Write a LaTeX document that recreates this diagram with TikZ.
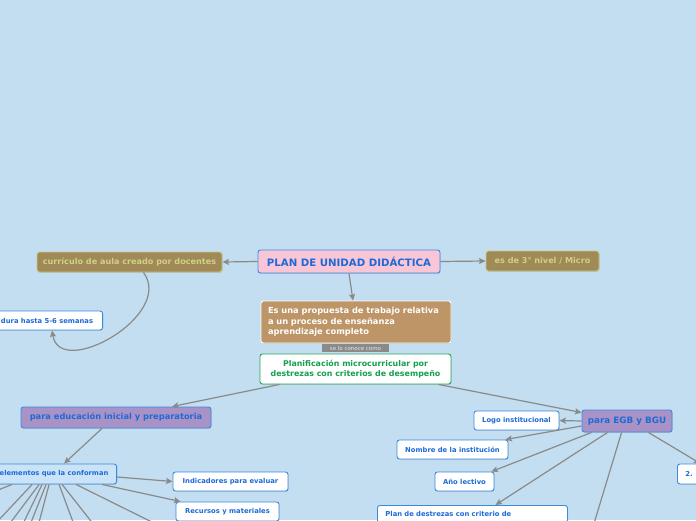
\documentclass[tikz,border=0pt]{standalone}
\usepackage{fontspec}
\newfontfamily\dejavu{DejaVu Sans}
\usetikzlibrary{arrows.meta,shadows}
\definecolor{fondo}{HTML}{C2DEF0}
\definecolor{azul}{HTML}{3A8AE4}
\definecolor{azultxt}{HTML}{1E6AD6}
\definecolor{rosa}{HTML}{F8C6D6}
\definecolor{oliva}{HTML}{A08A58}
\definecolor{olivaborde}{HTML}{C8CA7E}
\definecolor{olivatxt}{HTML}{D0D184}
\definecolor{tostado}{HTML}{BD9567}
\definecolor{verde}{HTML}{22A65C}
\definecolor{verdetxt}{HTML}{12A04E}
\definecolor{lila}{HTML}{A993C6}
\definecolor{celeste}{HTML}{CBE3F6}
\definecolor{gris}{HTML}{8A8A8A}
\definecolor{grisclaro}{HTML}{E6E6E6}

\begin{document}
\begin{tikzpicture}[x=1pt,y=-1pt,>={Stealth[length=6.5pt,width=6pt,inset=1.2pt]},
    linea/.style={gris,line width=1.2pt},
    caja/.style={rounded corners=2.5pt,line width=0.9pt,inner sep=0pt,
        drop shadow={shadow xshift=0.6pt,shadow yshift=-0.8pt,opacity=0.25}},
    blanca/.style={caja,draw=azul,fill=white,text=azultxt,minimum height=19pt,
        font=\dejavu\bfseries\fontsize{6.8}{8}\selectfont},
    cajaoliva/.style={caja,draw=olivaborde,fill=oliva,text=olivatxt,minimum height=20pt,
        font=\dejavu\bfseries\fontsize{8.1}{10}\selectfont},
    cajalila/.style={caja,draw=azul,fill=lila,text=azultxt,
        font=\dejavu\bfseries\fontsize{8.3}{10}\selectfont}]
    \useasboundingbox (0,0) rectangle (696,520);
    \clip (0,0) rectangle (696,520);
    \fill[fondo] (0,0) rectangle (696,520);
    % --- nodo central ---
    \node[caja,draw=azul,fill=rosa,text=azultxt,minimum width=182pt,minimum height=23pt,
        font=\dejavu\bfseries\fontsize{10.2}{12}\selectfont] (plan) at (349,261.5) {PLAN DE UNIDAD DIDÁCTICA};
    \node[cajaoliva,minimum width=185pt] (curr) at (129.5,262) {currículo de aula creado por docentes};
    \node[cajaoliva,minimum width=113pt] (micro) at (542.5,261) {es de 3° nivel / Micro};
    \node[blanca,anchor=east,minimum width=111pt] (dura) at (103,320.5) {dura hasta 5-6 semanas};
    \draw[linea,->] (plan.west) -- (curr.east);
    \draw[linea,->] (plan.east) -- (micro.west);
    \draw[linea,->] ([xshift=14pt]curr.south) .. controls (175,315) and (60,380) .. ([xshift=5pt]dura.south);
    % --- definicion ---
    \node[caja,draw=white,fill=tostado,text=white,text width=176pt,align=left,inner xsep=7pt,
        minimum height=42pt,font=\dejavu\bfseries\fontsize{8.3}{10.5}\selectfont] (prop) at (356,322)
        {Es una propuesta de trabajo relativa\\a un proceso de enseñanza\\aprendizaje completo};
    \draw[linea,->] (plan.south) -- ([xshift=-3pt]prop.north);
    \node[fill=gris,text=grisclaro,inner sep=0pt,minimum width=67pt,minimum height=8.5pt,
        font=\dejavu\fontsize{5.5}{6}\selectfont] (conoce) at (355.5,348) {se lo conoce como};
    \node[caja,draw=verde,fill=white,text=verdetxt,align=center,minimum width=191pt,minimum height=30pt,
        font=\dejavu\bfseries\fontsize{7.9}{10.5}\selectfont] (pmc) at (355.5,369)
        {Planificación microcurricular por\\destrezas con criterios de desempeño};
    % --- inicial y preparatoria ---
    \node[cajalila,minimum width=190pt,minimum height=21pt] (ini) at (116,417.5) {para educación inicial y preparatoria};
    \draw[linea,->] ([xshift=20pt]pmc.south west) -- ([xshift=56pt]ini.north);
    \node[blanca,fill=celeste,anchor=east,minimum width=125pt,minimum height=20pt,
        font=\dejavu\bfseries\fontsize{6.75}{8}\selectfont] (elem) at (117,474) {elementos que la conforman};
    \draw[linea,->] ([xshift=-14pt]ini.south) -- ([xshift=10pt]elem.north);
    \node[blanca,minimum width=115pt] (ind) at (230.5,481.5) {Indicadores para evaluar};
    \node[blanca,minimum width=103pt] (rec) at (227.5,511.5) {Recursos y materiales};
    \draw[linea,->] ([yshift=-3pt]elem.east) -- (ind.west);
    \draw[linea,->] ([xshift=-15pt]elem.south east) -- ([xshift=5pt]rec.north west);
    \foreach \s/\px/\py [count=\i] in {21/-40/505,41/-20/540,48/5/530,51/20/530,55/28/530,
        58/37/530,68/76/530,71/98/530,85/168/530}{
        \coordinate (f\i) at (\px,\py);
        \draw[linea] ([xshift=\s pt]elem.south west) -- (f\i);}
    % --- EGB y BGU ---
    \node[cajalila,minimum width=90pt,minimum height=22pt,
        font=\dejavu\bfseries\fontsize{8.8}{10}\selectfont] (egb) at (627,421) {para EGB y BGU};
    \draw[linea,->] ([xshift=-13pt]pmc.south east) -- ([yshift=-3pt]egb.north west);
    \node[blanca,minimum width=85pt] (logo) at (516.5,420.5) {Logo institucional};
    \node[blanca,minimum width=111pt] (nom) at (452.5,449.5) {Nombre de la institución};
    \node[blanca,minimum width=59pt] (anio) at (464.5,481.5) {Año lectivo};
    \node[blanca,anchor=north west,text width=174pt,align=left,inner xsep=8pt,inner ysep=6pt,
        minimum height=0pt] (dest) at (377,505) {Plan de destrezas con criterio de};
    \node[blanca,anchor=west,text width=50pt,align=left,inner xsep=8pt,minimum height=20pt] (dos) at (677,474) {2. I};
    \coordinate (e1) at (589,540);
    \draw[linea,->] (egb.west) -- (logo.east);
    \draw[linea,->] ([yshift=-5pt]egb.west) -- ([xshift=-3pt]nom.north east);
    \draw[linea,->] ([xshift=10pt]egb.south west) -- ([xshift=-3pt]anio.north east);
    \draw[linea,->] ([xshift=26pt]egb.south west) -- ([xshift=23pt]dest.north);
    \draw[linea] ([xshift=40pt]egb.south west) -- (e1);
    \draw[linea,->] ([xshift=-24pt]egb.south east) -- ([xshift=-10pt]dos.north);
\end{tikzpicture}
\end{document}
